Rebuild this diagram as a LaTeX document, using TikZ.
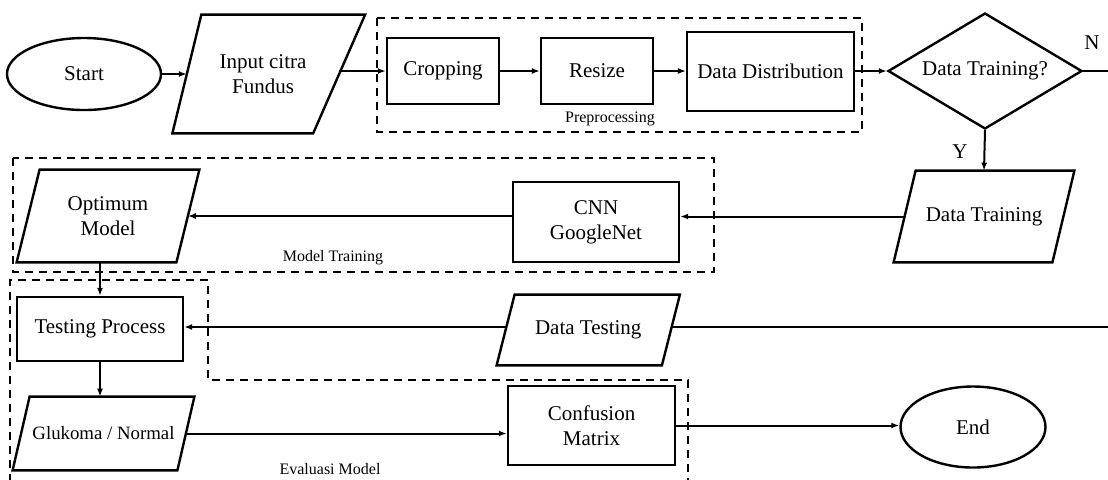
\documentclass[tikz,border=0pt]{standalone}
\usepackage{fontspec}
\setmainfont{Liberation Serif}
\usetikzlibrary{shapes.geometric,arrows.meta}
\newcommand\paraoutline[3]{%
  \draw[shapeline] ([xshift=#2]#1.north west) -- ([xshift=#3]#1.north east)
    -- ([xshift=-#3]#1.south east) -- ([xshift=-#2]#1.south west) -- cycle;}
\begin{document}
\begin{tikzpicture}[x=0.5pt,y=-0.5pt,
  every node/.style={font=\fontsize{10.5}{12.5}\selectfont, align=center},
  shapeline/.style={line width=1.2pt, line join=miter},
  boxnode/.style={draw, line width=1.2pt, rectangle, inner sep=0pt},
  para/.style={rectangle, inner sep=0pt},
  term/.style={draw, line width=1.2pt, ellipse, inner sep=0pt},
  decision/.style={draw, line width=1.2pt, diamond, aspect=1.67, inner sep=0pt},
  conn/.style={line width=1pt, -{Latex[length=4pt,width=3pt]}},
  thinconn/.style={line width=0.6pt, -{Latex[length=4pt,width=3pt]}},
  plainline/.style={line width=1pt},
  group/.style={line width=1pt, dash pattern=on 4pt off 3pt},
  grouplabel/.style={font=\fontsize{8}{9.6}\selectfont}
]
\useasboundingbox (0,0) rectangle (1108,479);

% dashed groups
\draw[group] (377,18) rectangle (862,132);
\node[grouplabel] (lpre) at (610,119) {Preprocessing};
\draw[group] (13,158) rectangle (714,272);
\node[grouplabel] (lmod) at (333,258) {Model Training};
\draw[group] (10,482) -- (10,280) -- (208,280) -- (208,380) -- (688,380) -- (688,482);
\node[grouplabel] (leva) at (330,469) {Evaluasi Model};

% nodes
\node[term, minimum width=77pt, minimum height=36pt] (start) at (84,74) {Start};
\node[para, minimum width=75.75pt, minimum height=59pt] (input) at (263,74) {Input citra\\Fundus};
\paraoutline{input}{7.25pt}{13pt}
\node[boxnode, minimum width=56pt, minimum height=33pt] (crop) at (443,71) {Cropping};
\node[boxnode, minimum width=56pt, minimum height=33pt] (resize) at (597,71) {Resize};
\node[boxnode, minimum width=83.5pt, minimum height=39.5pt] (dist) at (770.5,71.5) {Data Distribution};
\node[decision, minimum width=97pt, minimum height=58pt] (dec) at (985,71) {Data Training?};
\node (nlab) at (1092,43) {N};
\node (ylab) at (960,152) {Y};
\node[para, minimum width=79pt, minimum height=45.5pt] (dtrain) at (984,216.5) {Data Training};
\paraoutline{dtrain}{5.5pt}{5.5pt}
\node[boxnode, minimum width=83pt, minimum height=40pt] (cnn) at (596,222) {CNN\\GoogleNet};
\node[para, minimum width=79.5pt, minimum height=46pt] (opt) at (108,216) {Optimum\\Model};
\paraoutline{opt}{5.75pt}{5.75pt}
\node[boxnode, minimum width=83pt, minimum height=32pt] (test) at (100,329) {Testing Process};
\node[para, minimum width=82.25pt, minimum height=35pt] (dtest) at (588.25,330) {Data Testing};
\paraoutline{dtest}{4.5pt}{4.5pt}
\node[para, minimum width=82pt, minimum height=36.5pt, font=\fontsize{9.4}{11}\selectfont] (gluk) at (103.5,433.5) {Glukoma / Normal};
\paraoutline{gluk}{4.25pt}{4.25pt}
\node[boxnode, minimum width=83.5pt, minimum height=39.5pt] (conf) at (591.5,425.5) {Confusion\\Matrix};
\node[term, minimum width=72.5pt, minimum height=40.5pt] (end) at (973,427) {End};

\coordinate (offA) at (1116,71);
\coordinate (offB) at (1116,327);

% connectors
\draw[conn] (start.east) -- (start.east -| input.west);
\draw[conn] (input.east |- crop.west) -- (crop.west);
\draw[conn] (crop.east) -- (resize.west);
\draw[thinconn] (resize.east) -- (resize.east -| dist.west);
\draw[conn] (dist.east |- dec.west) -- (dec.west);
\draw[conn] (dec.south) -- (dtrain.north);
\draw[plainline] (dec.east) -- (offA) -- (offB) -- (offB -| dtest.east);
\draw[conn] (dtrain.west) -- (dtrain.west -| cnn.east);
\draw[conn] (cnn.west |- opt.east) -- (opt.east);
\draw[conn] (opt.south -| test.north) -- (test.north);
\draw[conn] (offB -| dtest.west) -- (offB -| test.east);
\draw[conn] (test.south) -- (test.south |- gluk.north);
\draw[conn] (gluk.east) -- (gluk.east -| conf.west);
\draw[conn] (conf.east) -- (conf.east -| end.west);
\end{tikzpicture}
\end{document}
